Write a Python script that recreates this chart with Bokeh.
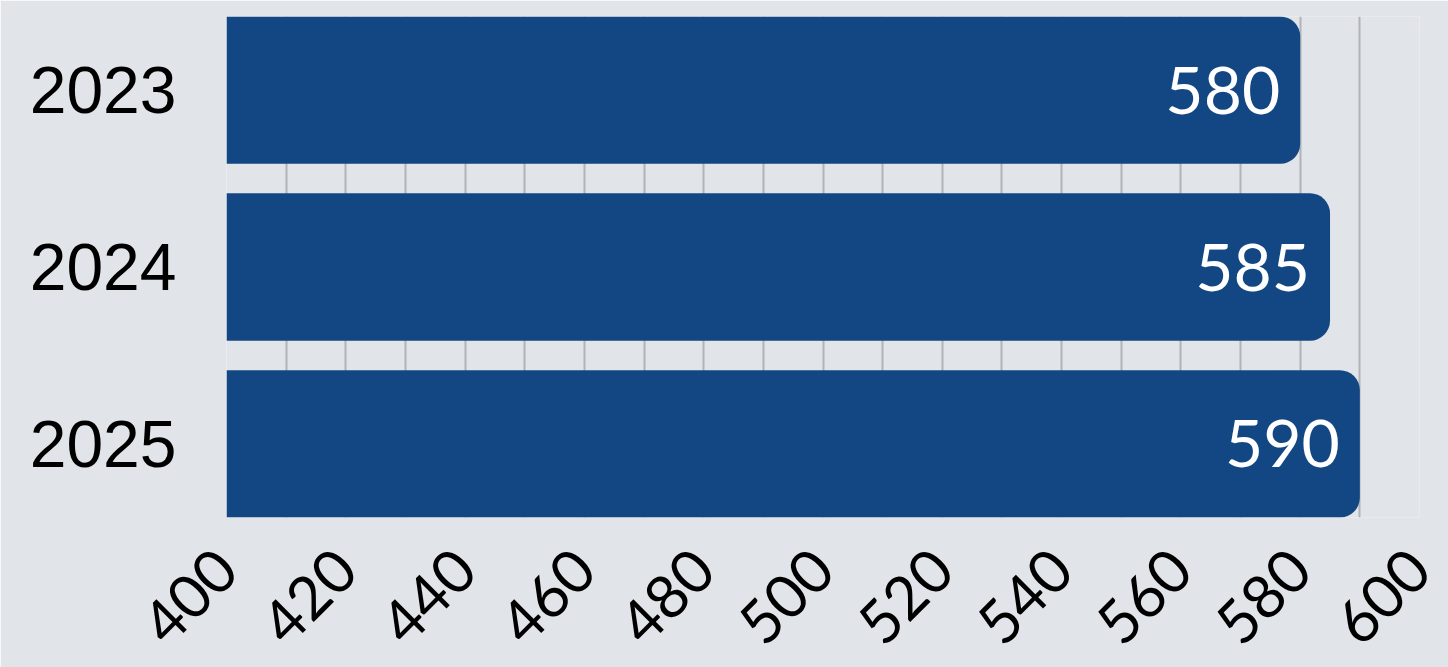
import math
from bokeh.plotting import figure
from bokeh.models import Range1d, FixedTicker, SingleIntervalTicker, ColumnDataSource
from bokeh.core.properties import value
from bokeh.embed import file_html
from bokeh.resources import INLINE

# ---- data ----
years = ["2023", "2024", "2025"]
scores = [580, 585, 590]
x_start = 400
x_end = 600
tick_step = 20
grid_step = 10

BG = "#e1e4e8"
BAR = "#134783"
BAR_H = 0.833

ypos = list(range(len(years)))
src = ColumnDataSource(dict(
    y=ypos,
    right=scores,
    left=[x_start] * len(scores),
    label=[str(s) for s in scores],
))

p = figure(
    width=1448, height=667,
    x_range=Range1d(x_start, x_end),
    y_range=Range1d(len(years) - 1 + BAR_H / 2, -BAR_H / 2),
    output_backend="svg", toolbar_location=None,
    min_border_left=226, min_border_right=29,
    min_border_top=16, min_border_bottom=150,
)
p.background_fill_color = BG
p.border_fill_color = BG
p.outline_line_color = None

p.hbar(y="y", left="left", right="right", height=BAR_H, source=src,
       fill_color=BAR, line_color=None, border_radius=(0, 20, 20, 0))

p.text(x="right", y="y", text="label", source=src, x_offset=-20,
       text_align="right", text_baseline="middle", text_color="white",
       text_font_size="66px", text_font=value("Lato"))

# axes
p.yaxis.ticker = FixedTicker(ticks=ypos)
p.yaxis.major_label_overrides = {i: y for i, y in enumerate(years)}
p.yaxis.major_label_text_font = "Liberation Sans"
p.yaxis.major_label_text_font_size = "66px"
p.yaxis.major_label_text_color = "#000000"
p.yaxis.major_label_standoff = 44

p.xaxis.ticker = SingleIntervalTicker(interval=tick_step)
p.xaxis.major_label_orientation = math.pi / 4
p.xaxis.major_label_text_font = "Lato"
p.xaxis.major_label_text_font_size = "60px"
p.xaxis.major_label_text_color = "#000000"
p.xaxis.major_label_standoff = 36

for ax in (p.xaxis, p.yaxis):
    ax.axis_line_color = None
    ax.major_tick_line_color = None
    ax.minor_tick_line_color = None

p.ygrid.visible = False
p.xgrid.ticker = SingleIntervalTicker(interval=grid_step)
p.xgrid.grid_line_color = "#b0b3b8"
p.xgrid.grid_line_width = 2

html = file_html(p, INLINE)
html = html.replace("<body>", '<body style="background:%s; margin:0;">' % BG, 1)
open("out.html", "w").write(html)
